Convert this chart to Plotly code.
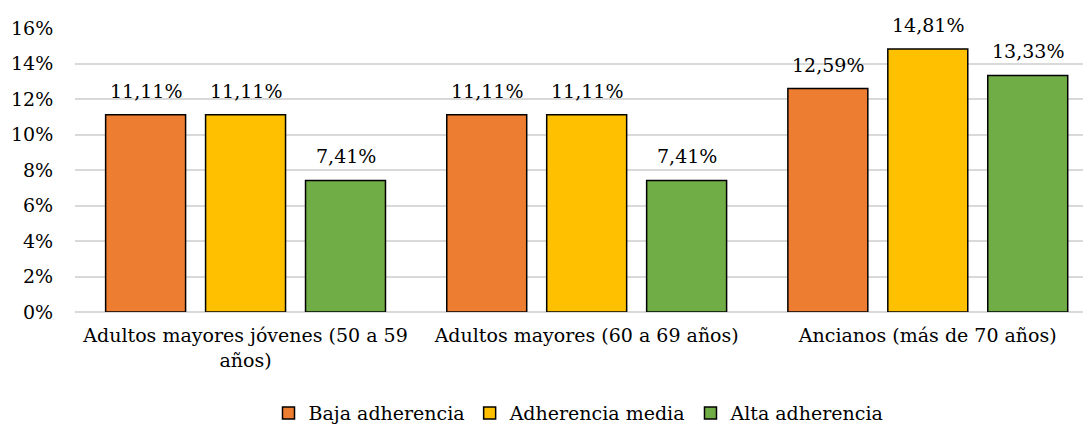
import plotly.graph_objects as go

categories = ["Adultos mayores jóvenes (50 a 59<br>años)", "Adultos mayores (60 a 69 años)", "Ancianos (más de 70 años)"]
series_names = ["Baja adherencia", "Adherencia media", "Alta adherencia"]
baja = [11.11, 11.11, 12.59]
media = [11.11, 11.11, 14.81]
alta = [7.41, 7.41, 13.33]
colors = ["#ED7D31", "#FFC000", "#70AD47"]
y_ticks = [0, 2, 4, 6, 8, 10, 12, 14, 16]

FONT = "DejaVu Serif"
FS = 19
BARGAP = 0.121
fig = go.Figure()
all_series = [baja, media, alta]
for name, vals, col in zip(series_names, all_series, colors):
    fig.add_trace(go.Bar(
        x=list(range(len(categories))), y=vals, name=name,
        marker=dict(color=col, line=dict(color="black", width=1.5)),
    ))

slot = (1 - BARGAP) / len(all_series)
annotations = []
for j, vals in enumerate(all_series):
    for i, v in enumerate(vals):
        annotations.append(dict(
            x=i + (j - (len(all_series) - 1) / 2) * slot, y=v, xref="x", yref="y",
            text=f"{v:.2f}%".replace(".", ","), showarrow=False,
            yanchor="middle", yshift=24,
            font=dict(family=FONT, size=FS, color="black"),
        ))

fig.update_layout(
    width=1083, height=426,
    margin=dict(l=75, r=0, t=28, b=114, autoexpand=False),
    paper_bgcolor="white", plot_bgcolor="white",
    barmode="group", bargap=BARGAP, bargroupgap=0.2,
    font=dict(family=FONT, size=FS, color="black"),
    showlegend=True,
    annotations=annotations,
    legend=dict(orientation="h", x=0.5, xanchor="center", yref="container", y=0.03, yanchor="middle",
                font=dict(family=FONT, size=FS), itemwidth=30, tracegroupgap=0),
    xaxis=dict(range=[-0.5, 2.455], tickvals=list(range(len(categories))), ticktext=categories,
               showgrid=False, showline=False, zeroline=False, automargin=False, tickangle=0,
               ticks="outside", ticklen=6, tickcolor="rgba(0,0,0,0)",
               tickfont=dict(family=FONT, size=FS)),
    yaxis=dict(range=[0, 16], tickvals=y_ticks, ticktext=[f"{v}%" for v in y_ticks],
               showgrid=True, gridcolor="#D9D9D9", gridwidth=1.5, zeroline=True,
               zerolinecolor="#D9D9D9", zerolinewidth=1.5, showline=False, automargin=False,
               ticks="outside", ticklen=17, tickcolor="rgba(0,0,0,0)",
               tickfont=dict(family=FONT, size=FS)),
)
fig.write_html("out.html")
